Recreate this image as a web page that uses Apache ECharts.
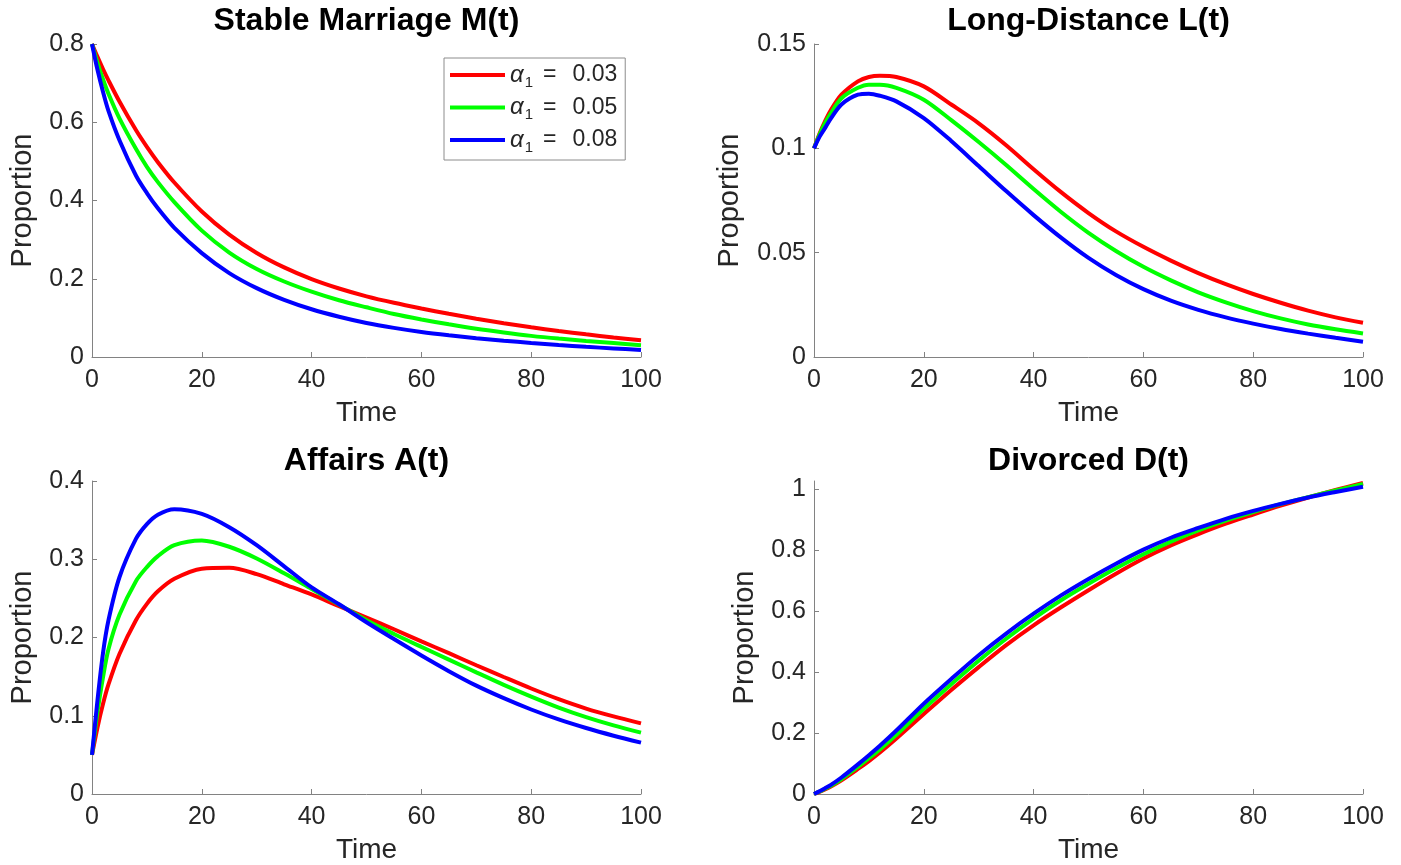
<!DOCTYPE html>
<html>
<head>
<meta charset="utf-8">
<script src="https://cdn.jsdelivr.net/npm/echarts@6/dist/echarts.min.js"></script>
<style>
    html, body {margin: 0; padding: 0; background: #fff;}
    #chart {width: 1401px; height: 865px;}
</style>
</head>
<body>
<div id="chart"></div>
<script>
// time samples shared by every curve
const TIME = [0, 1, 2, 3, 5, 8, 10, 12, 15, 20, 25, 30, 35, 40, 45, 50, 55, 60, 65, 70, 75, 80, 85, 90, 95, 100];
const ALPHAS = ['0.03', '0.05', '0.08'];
const COLORS = ['#ff0000', '#00ff00', '#0000ff'];

// Stable Marriage M(t)
const M_RED = [0.8, 0.767, 0.736, 0.707, 0.653, 0.580, 0.537, 0.498, 0.446, 0.372, 0.313, 0.266, 0.229, 0.199, 0.175, 0.155, 0.1385, 0.124, 0.1105, 0.098, 0.0865, 0.076, 0.0665, 0.058, 0.050, 0.043];
const M_GREEN = [0.8, 0.752, 0.710, 0.673, 0.610, 0.532, 0.486, 0.447, 0.396, 0.323, 0.267, 0.225, 0.193, 0.167, 0.145, 0.127, 0.110, 0.096, 0.0835, 0.072, 0.0625, 0.054, 0.047, 0.041, 0.0355, 0.030];
const M_BLUE = [0.8, 0.734, 0.678, 0.629, 0.554, 0.464, 0.419, 0.380, 0.330, 0.2655, 0.2145, 0.176, 0.146, 0.122, 0.103, 0.087, 0.0745, 0.064, 0.0555, 0.048, 0.0415, 0.036, 0.0308, 0.026, 0.022, 0.018];

// Long-Distance L(t)
const L_RED = [0.1, 0.107, 0.1129, 0.118, 0.1257, 0.1321, 0.1342, 0.1348, 0.1342, 0.1297, 0.121, 0.112, 0.1015, 0.090, 0.079, 0.069, 0.0602, 0.0528, 0.0462, 0.0402, 0.0349, 0.0302, 0.026, 0.0222, 0.019, 0.0164];
const L_GREEN = [0.1, 0.1065, 0.112, 0.1165, 0.124, 0.129, 0.1305, 0.1305, 0.129, 0.1233, 0.1135, 0.103, 0.092, 0.0805, 0.0695, 0.0595, 0.0508, 0.0432, 0.0367, 0.031, 0.0262, 0.022, 0.0185, 0.0156, 0.0133, 0.0113];
const L_BLUE = [0.1, 0.1055, 0.1097, 0.114, 0.121, 0.1257, 0.1262, 0.1252, 0.1225, 0.1145, 0.1035, 0.0915, 0.0795, 0.068, 0.0572, 0.0475, 0.0393, 0.0325, 0.027, 0.0226, 0.019, 0.016, 0.0134, 0.0112, 0.0092, 0.0073];

// Affairs A(t)
const A_RED = [0.05, 0.085, 0.115, 0.14, 0.179, 0.222, 0.243, 0.259, 0.275, 0.288, 0.289, 0.281, 0.268, 0.255, 0.240, 0.2255, 0.2105, 0.195, 0.18, 0.1645, 0.1495, 0.1348, 0.1212, 0.1092, 0.0992, 0.0903];
const A_GREEN = [0.05, 0.105, 0.149, 0.185, 0.229, 0.272, 0.290, 0.304, 0.318, 0.324, 0.316, 0.301, 0.282, 0.262, 0.242, 0.222, 0.2045, 0.188, 0.1718, 0.1555, 0.1395, 0.1245, 0.1105, 0.0983, 0.0877, 0.0784];
const A_BLUE = [0.05, 0.12, 0.18, 0.222, 0.277, 0.326, 0.345, 0.357, 0.364, 0.358, 0.341, 0.318, 0.291, 0.264, 0.2425, 0.2195, 0.198, 0.177, 0.157, 0.1385, 0.1225, 0.108, 0.0953, 0.0843, 0.0745, 0.0656];

// Divorced D(t)
const D_RED = [0, 0.007, 0.015, 0.024, 0.045, 0.082, 0.108, 0.136, 0.182, 0.262, 0.341, 0.416, 0.488, 0.553, 0.612, 0.668, 0.722, 0.772, 0.815, 0.852, 0.886, 0.916, 0.945, 0.972, 0.997, 1.02];
const D_GREEN = [0, 0.008, 0.017, 0.026, 0.049, 0.089, 0.117, 0.146, 0.194, 0.279, 0.360, 0.437, 0.509, 0.575, 0.635, 0.689, 0.740, 0.786, 0.827, 0.864, 0.896, 0.924, 0.950, 0.973, 0.995, 1.016];
const D_BLUE = [0, 0.009, 0.019, 0.029, 0.054, 0.097, 0.127, 0.158, 0.208, 0.296, 0.377, 0.455, 0.526, 0.591, 0.651, 0.705, 0.755, 0.801, 0.840, 0.872, 0.902, 0.928, 0.951, 0.972, 0.990, 1.007];

const TITLES = ['Stable Marriage M(t)', 'Long-Distance L(t)', 'Affairs A(t)', 'Divorced D(t)'];
const PANELS = [
    [M_RED, M_GREEN, M_BLUE],
    [L_RED, L_GREEN, L_BLUE],
    [A_RED, A_GREEN, A_BLUE],
    [D_RED, D_GREEN, D_BLUE]
];
const Y_MAX = [0.8, 0.15, 0.4, 1.026];
const Y_TICKS = [
    [0, 0.2, 0.4, 0.6, 0.8],
    [0, 0.05, 0.1, 0.15],
    [0, 0.1, 0.2, 0.3, 0.4],
    [0, 0.2, 0.4, 0.6, 0.8, 1]
];

const FONT = 'Liberation Sans, Arial, sans-serif';
const AXIS_GRAY = '#828282';
const TEXT_DARK = '#262626';

const gridPos = [
    {left: 92, top: 44},
    {left: 814, top: 44},
    {left: 92, top: 481},
    {left: 814, top: 481}
];
const yNameGap = [55, 70, 55, 55];
const titleY = [21, 21, 461, 461];

function pairs(values) {
    let list = [];
    for (let i = 0; i < TIME.length; i++) {
        list.push([TIME[i], values[i]]);
    }
    return list;
}

let chart = echarts.init(document.getElementById('chart'));

let grids = [], xAxes = [], yAxes = [], titles = [], series = [];
for (let p = 0; p < 4; p++) {
    grids.push({left: gridPos[p].left, top: gridPos[p].top, width: 549, height: 313, containLabel: false});
    titles.push({
        text: TITLES[p],
        left: gridPos[p].left + 274.5,
        top: titleY[p],
        textAlign: 'center',
        textVerticalAlign: 'middle',
        padding: 0,
        textStyle: {fontFamily: FONT, fontSize: 32, fontWeight: 'bold', color: '#000'}
    });
    xAxes.push({
        type: 'value',
        gridIndex: p,
        min: 0,
        max: 100,
        interval: 20,
        name: 'Time',
        nameLocation: 'middle',
        nameGap: 42,
        nameTextStyle: {fontFamily: FONT, fontSize: 28, color: TEXT_DARK},
        axisLine: {show: true, onZero: false, lineStyle: {color: AXIS_GRAY, width: 1}},
        axisTick: {show: true, inside: true, length: 5, lineStyle: {color: AXIS_GRAY}},
        axisLabel: {fontFamily: FONT, fontSize: 25, color: TEXT_DARK, margin: 11},
        splitLine: {show: false}
    });
    yAxes.push({
        type: 'value',
        gridIndex: p,
        min: 0,
        max: Y_MAX[p],
        name: 'Proportion',
        nameLocation: 'middle',
        nameGap: yNameGap[p],
        nameRotate: 90,
        nameTextStyle: {fontFamily: FONT, fontSize: 29, color: TEXT_DARK},
        axisLine: {show: true, onZero: false, lineStyle: {color: AXIS_GRAY, width: 1}},
        axisTick: {show: true, inside: true, length: 5, customValues: Y_TICKS[p], lineStyle: {color: AXIS_GRAY}},
        axisLabel: {fontFamily: FONT, fontSize: 25, color: TEXT_DARK, margin: 8, customValues: Y_TICKS[p]},
        splitLine: {show: false}
    });
    for (let s = 0; s < 3; s++) {
        series.push({
            name: ALPHAS[s],
            type: 'line',
            xAxisIndex: p,
            yAxisIndex: p,
            data: pairs(PANELS[p][s]),
            showSymbol: false,
            symbol: 'none',
            smooth: 0.3,
            lineStyle: {color: COLORS[s], width: 4},
            itemStyle: {color: COLORS[s]}
        });
    }
}

chart.setOption({
    animation: false,
    backgroundColor: '#fff',
    textStyle: {fontFamily: FONT},
    title: titles,
    grid: grids,
    xAxis: xAxes,
    yAxis: yAxes,
    legend: {
        data: ALPHAS,
        orient: 'vertical',
        left: 444,
        top: 58,
        padding: [2, 8, 5, 6],
        itemGap: 2.5,
        itemWidth: 55,
        itemHeight: 4,
        itemTextGap: 8,
        icon: 'rect',
        backgroundColor: '#fff',
        borderColor: '#8c8c8c',
        borderWidth: 1,
        borderRadius: 0,
        selectedMode: false,
        formatter: function (name) {
            return '{a|α}{s|1}{e|=}{t|' + name + '}';
        },
        textStyle: {
            fontFamily: FONT,
            fontSize: 23,
            color: TEXT_DARK,
            lineHeight: 30,
            rich: {
                a: {fontFamily: FONT, fontSize: 24, fontStyle: 'italic', color: TEXT_DARK, lineHeight: 30},
                s: {fontFamily: FONT, fontSize: 15, color: TEXT_DARK, lineHeight: 18, verticalAlign: 'bottom', padding: [0, 0, 0, 1]},
                e: {fontFamily: FONT, fontSize: 23, color: TEXT_DARK, lineHeight: 30, padding: [0, 0, 0, 10]},
                t: {fontFamily: FONT, fontSize: 23, color: TEXT_DARK, lineHeight: 30, padding: [0, 0, 0, 16]}
            }
        }
    },
    series: series
});
</script>
</body>
</html>
